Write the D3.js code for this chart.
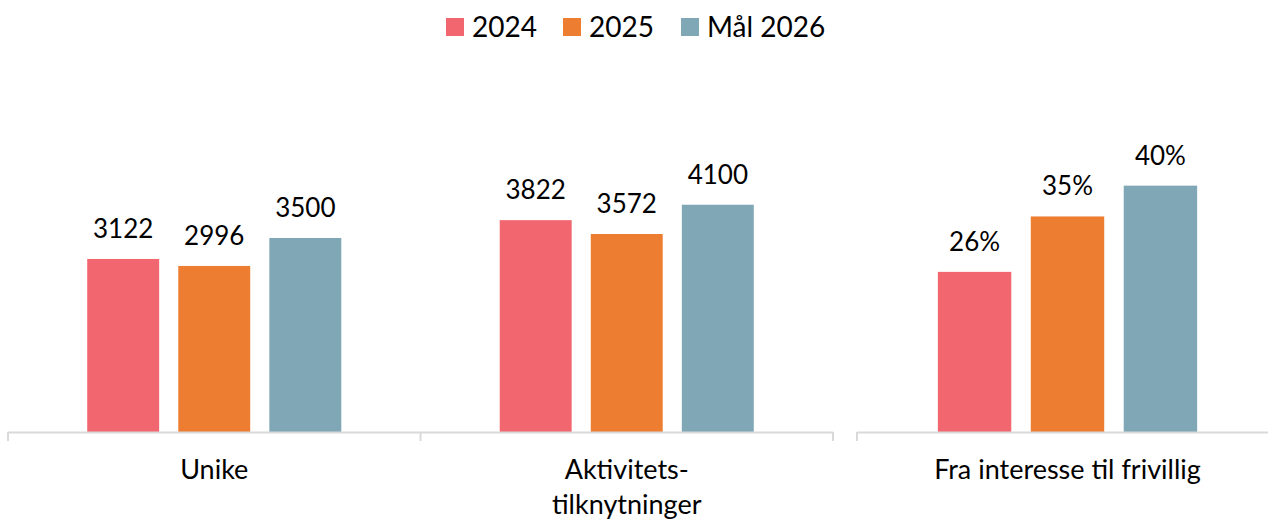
<!DOCTYPE html>
<html>
<head>
<meta charset="utf-8">
<script src="https://cdn.jsdelivr.net/npm/d3@7"></script>
<style>
  body { margin: 0; background: #fff; }
  svg text { font-family: Lato, "Open Sans", sans-serif; fill: #000; }
</style>
</head>
<body>
<div id="chart"></div>
<script>
(function (d3) {

    var series = ['2024', '2025', 'Mål 2026'];
    var colors = ['#F2666F', '#ED7D31', '#7FA7B5'];

    // left panel: counts
    var countCats = ['Unike', 'Aktivitets-\ntilknytninger'];
    var countValues = [
        [3122, 2996, 3500],
        [3822, 3572, 4100]
    ];

    // right panel: shares
    var shareCats = ['Fra interesse til frivillig'];
    var shareValues = [
        [0.26, 0.35, 0.40]
    ];

    var width = 1268,
        height = 519,
        baseY = 432,
        topY = 44;

    var svg = d3.select('#chart')
        .append('svg')
        .attr('width', width)
        .attr('height', height);

    // legend
    var legendX = [446, 563, 681];
    var legend = svg.append('g');
    series.forEach(function (s, i) {
        legend.append('rect')
            .attr('x', legendX[i])
            .attr('y', 18)
            .attr('width', 18)
            .attr('height', 18)
            .attr('fill', colors[i]);
        legend.append('text')
            .attr('x', legendX[i] + 26)
            .attr('y', 37)
            .attr('font-size', 28)
            .text(s);
    });

    function drawPanel(cats, values, x0, x1, yMax, fmt, closeRight) {
        var xOuter = d3.scaleBand().domain(cats).range([x0, x1]);
        var xInner = d3.scaleBand().domain(series)
            .range([0, xOuter.bandwidth()])
            .paddingInner(0.21)
            .paddingOuter(0.87);
        var y = d3.scaleLinear().domain([0, yMax]).range([baseY, topY]);

        var g = svg.append('g');

        cats.forEach(function (c, ci) {
            var grp = g.append('g')
                .attr('transform', 'translate(' + xOuter(c) + ',0)');
            grp.selectAll('rect')
                .data(values[ci])
                .enter()
                .append('rect')
                .attr('x', function (d, i) { return xInner(series[i]); })
                .attr('y', function (d) { return y(d); })
                .attr('width', xInner.bandwidth())
                .attr('height', function (d) { return baseY - y(d); })
                .attr('fill', function (d, i) { return colors[i]; });
            grp.selectAll('text.val')
                .data(values[ci])
                .enter()
                .append('text')
                .attr('class', 'val')
                .attr('x', function (d, i) { return xInner(series[i]) + xInner.bandwidth() / 2; })
                .attr('y', function (d) { return y(d) - 21; })
                .attr('text-anchor', 'middle')
                .attr('font-size', 26)
                .text(fmt);

            var lines = c.split('\n');
            grp.append('text')
                .attr('x', xOuter.bandwidth() / 2)
                .attr('y', 479)
                .attr('text-anchor', 'middle')
                .attr('font-size', 27)
                .selectAll('tspan')
                .data(lines)
                .enter()
                .append('tspan')
                .attr('x', xOuter.bandwidth() / 2)
                .attr('dy', function (d, i) { return i === 0 ? 0 : 35; })
                .text(function (d) { return d; });
        });

        // axis line with category ticks
        var ticks = cats.map(function (c) { return xOuter(c); });
        if (closeRight) ticks.push(x1);
        g.append('line')
            .attr('x1', x0).attr('x2', x1)
            .attr('y1', baseY + 0.5).attr('y2', baseY + 0.5)
            .attr('stroke', '#D9D9D9')
            .attr('stroke-width', 2);
        g.selectAll('line.tick')
            .data(ticks)
            .enter()
            .append('line')
            .attr('class', 'tick')
            .attr('x1', function (d) { return d; })
            .attr('x2', function (d) { return d; })
            .attr('y1', baseY)
            .attr('y2', baseY + 9)
            .attr('stroke', '#D9D9D9')
            .attr('stroke-width', 2);
    }

    drawPanel(countCats, countValues, 8, 833, 7000, function (d) { return d; }, true);
    drawPanel(shareCats, shareValues, 857, 1278, 0.63, function (d) { return Math.round(d * 100) + '%'; }, false);

})(d3);
</script>
</body>
</html>
